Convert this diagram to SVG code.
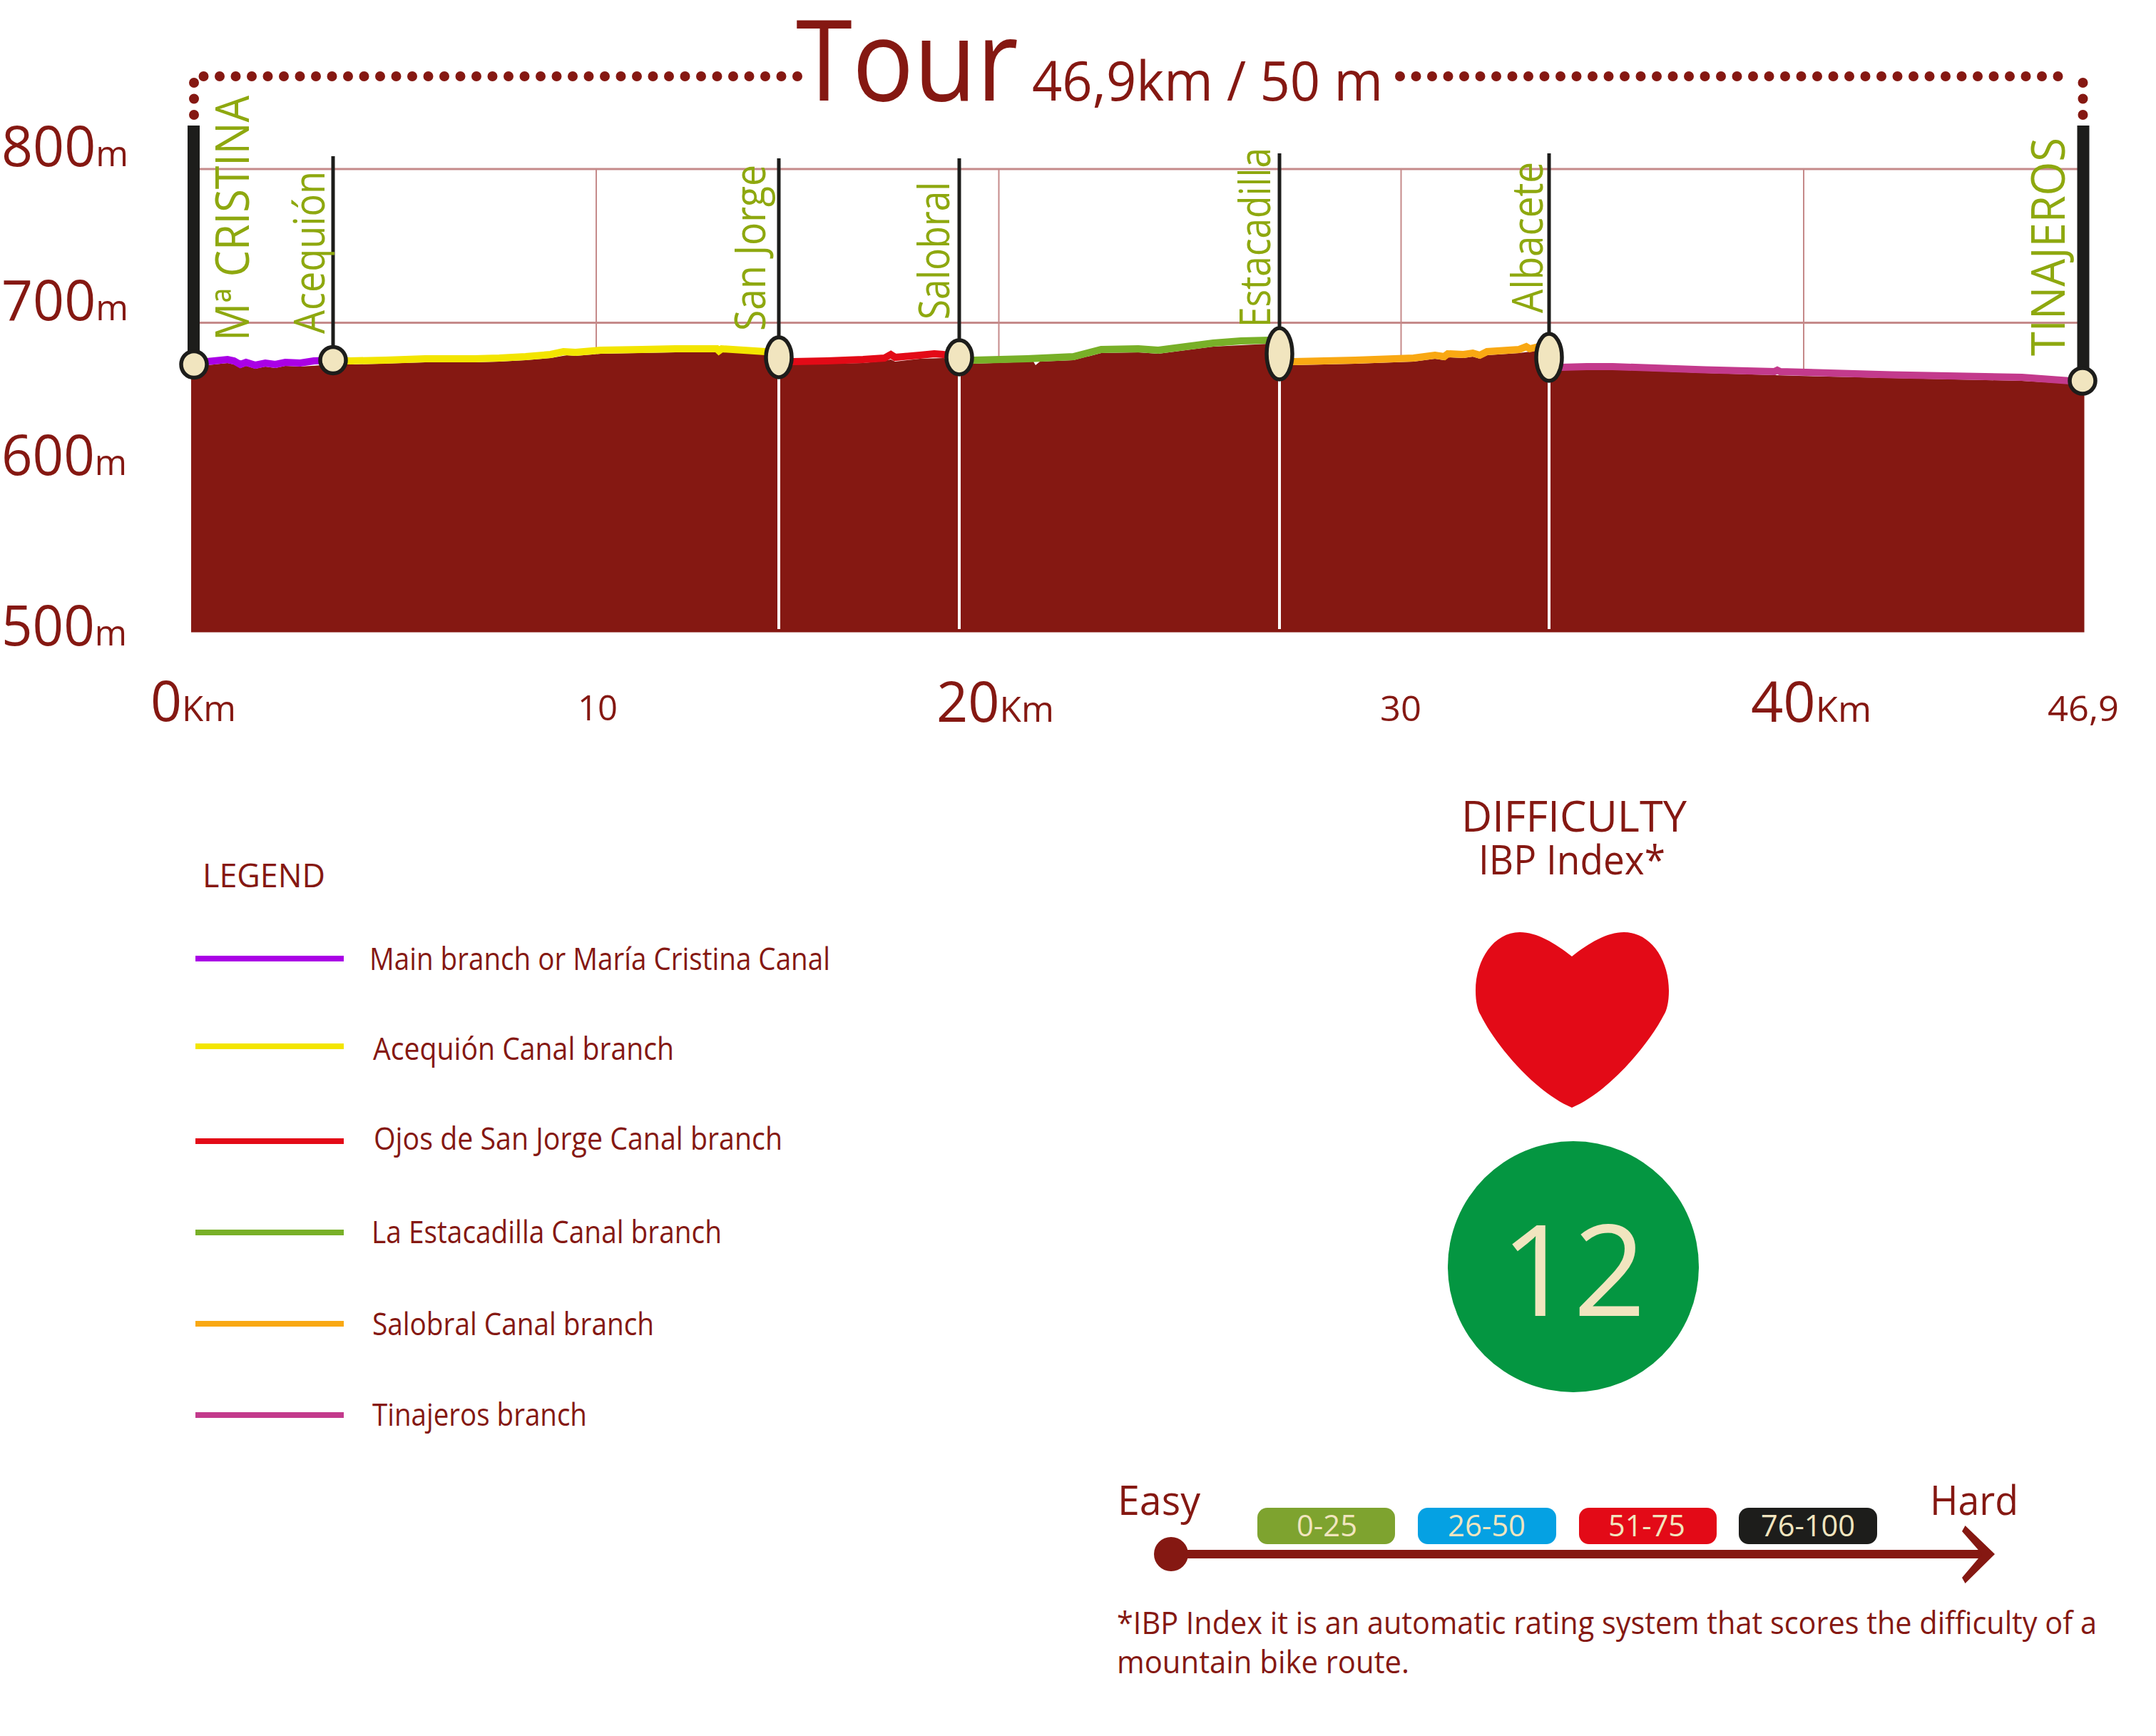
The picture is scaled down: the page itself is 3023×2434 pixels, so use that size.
<svg xmlns="http://www.w3.org/2000/svg" width="3023" height="2434" viewBox="0 0 3023 2434">
<style>
text{font-family:"Open Sans","Noto Sans","Liberation Sans",sans-serif;fill:#851812}
.g{fill:#8ea80f;font-size:60px}
.gc{fill:#8ea80f;font-size:66px}
.grid{stroke:#c58a8a;fill:none}
.ball{fill:#f1e5bf;stroke:#1d1d1b;stroke-width:5.500}
.pin{stroke:#1d1d1b;stroke-width:5}
.pole{stroke:#1d1d1b;stroke-width:17}
.wl{stroke:#fff;stroke-width:4}
.band{stroke-width:10;fill:none;stroke-linejoin:miter}
.leg{stroke-width:8}
.ax{font-size:78px}
.u{font-size:50px}
.sm{font-size:50px}
.lt{font-size:44px}
.chip{font-size:42px;fill:#f1e5bf}
.dots{fill:none;stroke:#851812;stroke-linecap:round;stroke-width:14;stroke-dasharray:0 22.500}
</style>
<rect width="3023" height="2434" fill="#fff"/>
<g id="grid" class="grid">
<path stroke-width="3" d="M272 237H2920M272 452.500H2920"/>
<path stroke-width="2" d="M836 237V500M1400.500 237V505M1964.500 237V505M2529 237V525"/>
</g>
<g id="profile">
<path fill="#851812" d="M268 886.500V517L291 512L300 511L319 509L328 511L337 516L345 513L358 517L372 514L386 516L400 513L421 514L467 511L491 510L497 511L596 508L666 508L700 507L737 505L772 502L795 498L807 499L842 496L947 494L1005 493L1008 497L1012 493L1073 497L1112 511L1210 509L1240 506L1249 504L1255 507L1290 503L1323 502L1365 510L1449 507L1452 512L1458 507L1505 505L1544 495L1596 494L1624 496L1701 486L1779 482L1814 512L1900 510L1982 507L2012 503L2025 505L2030 501L2052 502L2065 500L2075 503L2085 498L2130 495L2153 492L2189 519L2261 518L2391 523L2522 527L2652 530L2835 534L2903 538L2922.500 543V886.500Z"/>
<path class="band" stroke="#aa00e6" d="M272 507L290 507L300 506L319 504L328 506L337 511L345 508L358 512L372 509L386 511L400 508L421 509L440 506L467 505"/>
<path class="band" stroke="#f3e500" d="M467 505L491 506L540 505L596 503L666 503L700 502L737 500L772 497L790 493L807 494L842 491L900 490L947 489L985 489L1005 489L1008 492L1012 489L1073 493L1092 495"/>
<path class="band" stroke="#e30a17" d="M1092 507L1112 507L1160 506L1210 504L1240 502L1249 497L1255 501L1290 498L1310 496L1323 497L1345 498"/>
<path class="band" stroke="#78b028" d="M1345 506L1365 505L1440 503L1505 500L1544 490L1596 489L1624 491L1701 481L1740 478L1779 477L1794 477"/>
<path class="band" stroke="#f9a813" d="M1794 507L1814 507L1900 505L1982 502L2012 498L2025 500L2030 496L2052 497L2065 495L2075 498L2085 493L2130 490L2140 486L2145 489L2153 487L2172 483"/>
<path class="band" stroke="#c33a8c" d="M2172 515L2189 515L2225 514L2261 514L2391 518.500L2488 521L2492 519L2496 521L2652 525.400L2835 529L2903 534L2920 537"/>
</g>
<g id="connectors">
<path class="wl" d="M1092 527V882M1345 525V882M1794 532V882M2172 534V882"/>
<path class="dots" d="M285.500 107H1118.100M1963 107H2907.100M272 116V161.100M2920.500 116V161.100"/>
</g>
<g id="title">
<text x="1116" y="141" font-size="158" textLength="312" lengthAdjust="spacingAndGlyphs">Tour</text>
<text x="1447" y="141" font-size="77" textLength="492" lengthAdjust="spacingAndGlyphs">46,9km / 50 m</text>
</g>
<g id="y-axis">
<text x="2" y="233" class="ax" textLength="178" lengthAdjust="spacingAndGlyphs">800<tspan class="u">m</tspan></text>
<text x="2" y="449" class="ax" textLength="178" lengthAdjust="spacingAndGlyphs">700<tspan class="u">m</tspan></text>
<text x="2" y="666" class="ax" textLength="176" lengthAdjust="spacingAndGlyphs">600<tspan class="u">m</tspan></text>
<text x="2" y="905" class="ax" textLength="176" lengthAdjust="spacingAndGlyphs">500<tspan class="u">m</tspan></text>
</g>
<g id="x-axis">
<text x="211" y="1011" class="ax" textLength="120" lengthAdjust="spacingAndGlyphs">0<tspan class="u">Km</tspan></text>
<text x="810" y="1010" class="sm" textLength="56" lengthAdjust="spacingAndGlyphs">10</text>
<text x="1313" y="1012" class="ax" textLength="165" lengthAdjust="spacingAndGlyphs">20<tspan class="u">Km</tspan></text>
<text x="1935" y="1011" class="sm" textLength="58" lengthAdjust="spacingAndGlyphs">30</text>
<text x="2455" y="1012" class="ax" textLength="169" lengthAdjust="spacingAndGlyphs">40<tspan class="u">Km</tspan></text>
<text x="2871" y="1011" class="sm" textLength="100" lengthAdjust="spacingAndGlyphs">46,9</text>
</g>
<g id="stop-cristina"><path class="pole" d="M271.500 176V500"/><ellipse class="ball" cx="272" cy="511" rx="18" ry="18.500"/><text class="gc" transform="translate(349 478) rotate(-90)" textLength="344" lengthAdjust="spacingAndGlyphs">Mª CRISTINA</text></g>
<g id="stop-acequion"><path class="pin" d="M467 219V490"/><ellipse class="ball" cx="467" cy="505" rx="18" ry="18.500"/><text class="g" transform="translate(455 468) rotate(-90)" textLength="228" lengthAdjust="spacingAndGlyphs">Acequión</text></g>
<g id="stop-sanjorge"><path class="pin" d="M1092 222V475"/><ellipse class="ball" cx="1092" cy="501" rx="18" ry="28"/><text class="g" transform="translate(1073 464) rotate(-90)" textLength="233" lengthAdjust="spacingAndGlyphs">San Jorge</text></g>
<g id="stop-salobral"><path class="pin" d="M1345 222V478"/><ellipse class="ball" cx="1345" cy="501" rx="18" ry="24"/><text class="g" transform="translate(1331 448) rotate(-90)" textLength="193" lengthAdjust="spacingAndGlyphs">Salobral</text></g>
<g id="stop-estacadilla"><path class="pin" d="M1794 215V460"/><ellipse class="ball" cx="1794" cy="496" rx="18" ry="36"/><text class="g" transform="translate(1781 459) rotate(-90)" textLength="252" lengthAdjust="spacingAndGlyphs">Estacadilla</text></g>
<g id="stop-albacete"><path class="pin" d="M2172 215V470"/><ellipse class="ball" cx="2172" cy="501" rx="18" ry="33"/><text class="g" transform="translate(2163 439) rotate(-90)" textLength="212" lengthAdjust="spacingAndGlyphs">Albacete</text></g>
<g id="stop-tinajeros"><path class="pole" d="M2921 176V525"/><ellipse class="ball" cx="2920" cy="534" rx="18" ry="18"/><text class="gc" transform="translate(2895 499) rotate(-90)" textLength="306" lengthAdjust="spacingAndGlyphs">TINAJEROS</text></g>
<g id="legend">
<text x="284" y="1244" font-size="46" textLength="172" lengthAdjust="spacingAndGlyphs">LEGEND</text>
<path class="leg" stroke="#aa00e6" d="M274 1344H482"/><text x="518" y="1360" class="lt" textLength="646" lengthAdjust="spacingAndGlyphs">Main branch or María Cristina Canal</text>
<path class="leg" stroke="#f3e500" d="M274 1467H482"/><text x="523" y="1486" class="lt" textLength="422" lengthAdjust="spacingAndGlyphs">Acequión Canal branch</text>
<path class="leg" stroke="#e30a17" d="M274 1600H482"/><text x="524" y="1612" class="lt" textLength="573" lengthAdjust="spacingAndGlyphs">Ojos de San Jorge Canal branch</text>
<path class="leg" stroke="#78b028" d="M274 1728H482"/><text x="521" y="1743" class="lt" textLength="491" lengthAdjust="spacingAndGlyphs">La Estacadilla Canal branch</text>
<path class="leg" stroke="#f9a813" d="M274 1856H482"/><text x="522" y="1872" class="lt" textLength="395" lengthAdjust="spacingAndGlyphs">Salobral Canal branch</text>
<path class="leg" stroke="#c33a8c" d="M274 1984H482"/><text x="522" y="1999" class="lt" textLength="301" lengthAdjust="spacingAndGlyphs">Tinajeros branch</text>
</g>
<g id="difficulty">
<text x="2049" y="1166" font-size="61" textLength="316" lengthAdjust="spacingAndGlyphs">DIFFICULTY</text>
<text x="2073" y="1226" font-size="56" textLength="262" lengthAdjust="spacingAndGlyphs">IBP Index*</text>
<path fill="#e30a17" d="M2204 1341C2180 1322 2155 1307 2131 1307C2095 1307 2069 1345 2069 1389C2069 1405 2072 1417 2076 1423C2095 1462 2150 1530 2204 1553C2258 1530 2313 1462 2333 1423C2337 1417 2340 1405 2340 1389C2340 1345 2314 1307 2277 1307C2253 1307 2228 1322 2204 1341Z"/>
<ellipse cx="2206" cy="1776" rx="176" ry="176" fill="#049641"/>
<text x="2206" y="1845" font-size="178" text-anchor="middle" style="fill:#f1e5bf">12</text>
</g>
<g id="scale">
<text x="1567" y="2124" font-size="56" textLength="116" lengthAdjust="spacingAndGlyphs">Easy</text>
<text x="2706" y="2124" font-size="56" textLength="124" lengthAdjust="spacingAndGlyphs">Hard</text>
<rect x="1763" y="2114" width="193" height="51" rx="14" fill="#7ea32f"/><text class="chip" x="1818" y="2154" textLength="85" lengthAdjust="spacingAndGlyphs">0-25</text>
<rect x="1988" y="2114" width="194" height="51" rx="14" fill="#05a1e3"/><text class="chip" x="2030" y="2154" textLength="109" lengthAdjust="spacingAndGlyphs">26-50</text>
<rect x="2214" y="2114" width="193" height="51" rx="14" fill="#e30a17"/><text class="chip" x="2255" y="2154" textLength="108" lengthAdjust="spacingAndGlyphs">51-75</text>
<rect x="2438" y="2114" width="194" height="51" rx="14" fill="#1d1d1b"/><text class="chip" x="2469" y="2154" textLength="132" lengthAdjust="spacingAndGlyphs">76-100</text>
<circle cx="1642" cy="2179" r="24" fill="#851812"/>
<path d="M1642 2179H2785" fill="none" stroke="#851812" stroke-width="12"/>
<polygon points="2751,2147 2755.500,2139 2797,2179 2755.500,2220 2751,2212 2779,2179" fill="#851812"/>
<text x="1566" y="2291" font-size="44" textLength="1374" lengthAdjust="spacingAndGlyphs">*IBP Index it is an automatic rating system that scores the difficulty of a</text>
<text x="1566" y="2346" font-size="44" textLength="410" lengthAdjust="spacingAndGlyphs">mountain bike route.</text>
</g>
</svg>
